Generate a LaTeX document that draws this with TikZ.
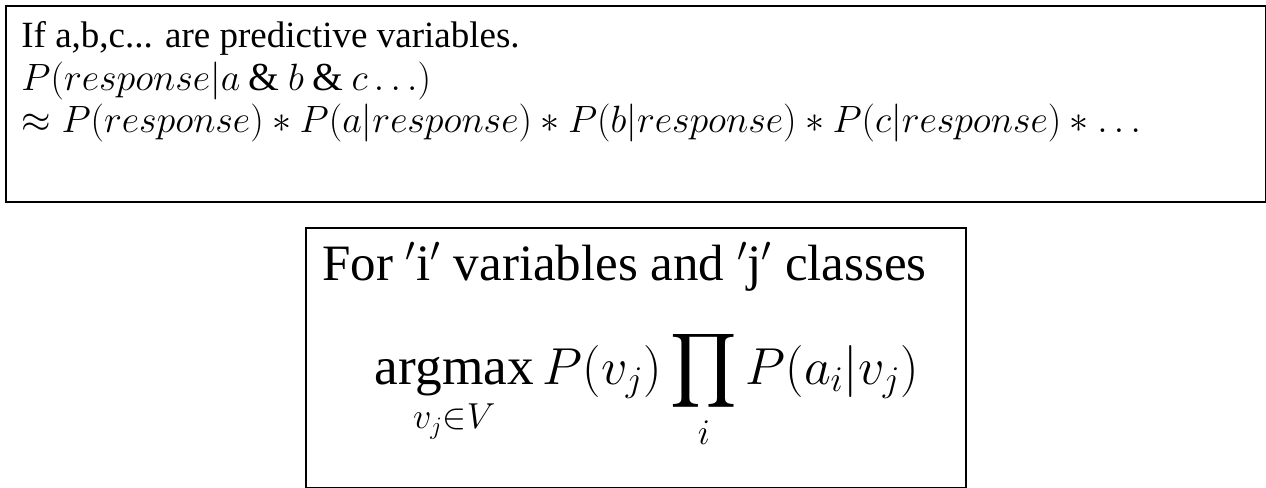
\documentclass[tikz,border=0pt]{standalone}
\usepackage{amsmath}
\usepackage{fontspec}
\setmainfont{Liberation Serif}
\usetikzlibrary{positioning}

\tikzset{
    frame/.style={draw, line width=1.2pt, inner sep=0pt, anchor=north west},
    line/.style={anchor=base west, inner sep=0pt, font=\fontsize{18.5}{22}\selectfont},
    eqline/.style={anchor=base west, inner sep=0pt, font=\fontsize{18}{22}\selectfont, scale=1.1, transform shape},
    big/.style={anchor=base west, inner sep=0pt, font=\fontsize{25.5}{30}\selectfont}
}

\begin{document}
\begin{tikzpicture}[x=0.5pt, y=-0.5pt]
    \useasboundingbox (0,0) rectangle (1266,488);

    % Boxes
    \node[frame, minimum width=630pt, minimum height=98pt] (upper) at (5,5) {};
    \node[frame, minimum width=330pt, minimum height=130pt] (lower) at (305,227) {};

    % Upper text
    \node[line] (cond) at (21,47) {If a,b,c... are predictive variables.};
    \node[eqline] (post) at (21,90) {$P(response|a \mathbin{\&} b \mathbin{\&} c\ldots)$};
    \node[eqline] (prod) at (21,132) {$\approx P(response) * P(a|response) * P(b|response) * P(c|response) *\ldots$};

    % Lower text
    \node[big] (head) at (322,280) {For $'$i$'$ variables and $'$j$'$ classes};
    \node[big, scale=1.045, transform shape] (rule) at (374,384) {$\displaystyle \operatorname*{argmax}_{v_j\in V} P(v_j)\prod_i P(a_i|v_j)$};

\end{tikzpicture}
\end{document}
